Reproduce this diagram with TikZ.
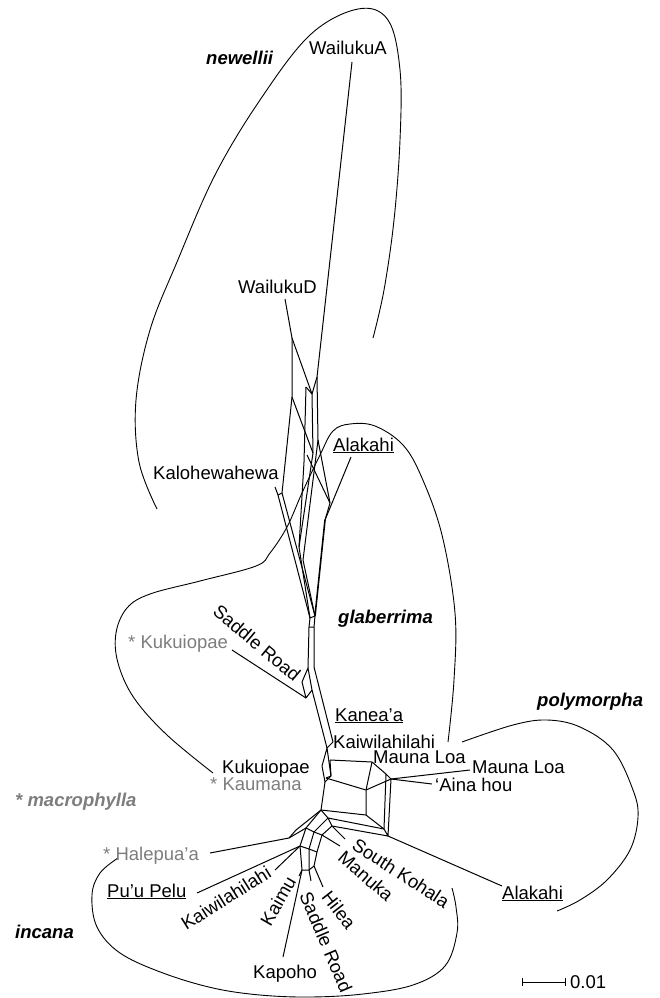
\documentclass[tikz,border=0pt]{standalone}
\usepackage{fontspec}
\setmainfont{Liberation Sans}
\definecolor{lgrey}{RGB}{125,125,125}
\begin{document}
\begin{tikzpicture}[x=1pt,y=-1pt,
  lab/.style={font=\fontsize{18.5}{21}\selectfont, inner sep=0pt},
  glab/.style={lab, text=lgrey},
  taxon/.style={font=\fontsize{18.5}{21}\selectfont\bfseries\itshape, inner sep=0pt},
  net/.style={line width=1pt, line join=round},
  hull/.style={line width=0.9pt},
]
\useasboundingbox (0,0) rectangle (660,998);

% ---- group outlines ----
\draw[hull] plot[smooth, tension=0.6] coordinates {(157,509) (139,462) (136,400) (150,330) (177,262) (215,175) (260,100) (310,35) (358,9) (388,20) (400,70) (400,140) (394,220) (384,290) (373,338)};
\draw[hull] plot[smooth, tension=0.6] coordinates {(448,742) (454,680) (455,613) (442,535) (422,478) (403,445) (375,426) (350,424) (333,431) (320,455) (302,493) (287,527) (270,553) (256,566) (200,581) (150,594) (127,608) (116,633) (118,663) (134,698) (167,735) (213,773)};
\draw[hull] plot[smooth, tension=0.6] coordinates {(462,742) (513,725) (547,720) (580,727) (613,750) (633,790) (638,817) (630,850) (607,880) (580,900) (557,911)};
\draw[hull] plot[smooth, tension=0.6] coordinates {(118,858) (100,873) (92,895) (97,927) (120,953) (163,973) (213,988) (260,995) (310,997) (363,994) (413,985) (445,966) (457,933) (456,907) (452,888)};

% ---- network: upper part ----
\coordinate (wd) at (285,299);
\coordinate (wa) at (352,62);
\coordinate (n1) at (292,338);
\coordinate (n2) at (292,397);
\coordinate (n3) at (312,394);
\coordinate (n4) at (317,377);
\coordinate (n5) at (306,387);
\coordinate (n6) at (313,453);
\coordinate (n7) at (318,440);
\coordinate (n8) at (282,493);
\coordinate (n9) at (299,547);
\coordinate (n10) at (330,503);
\coordinate (n11) at (325,520);
\coordinate (n12) at (304,462);
\coordinate (n13) at (307,455);
\coordinate (ka) at (351,457);
\coordinate (kal) at (275,487);
\coordinate (n14) at (278,495);
\coordinate (n15) at (310,618);
\coordinate (n16) at (315,616);
\coordinate (n17) at (303,560);
\draw[net] (wd) -- (n1) -- (n2) -- (n8);
\draw[net] (n1) -- (n3);
\draw[net] (wa) -- (n4) -- (n3);
\draw[net] (n5) -- (n3);
\draw[net] (n2) -- (n6);
\draw[net] (n3) -- (n6) -- (n9);
\draw[net] (n5) -- (n12) -- (n9);
\draw[net] (n4) -- (n7) -- (n10) -- (n11);
\draw[net] (n13) -- (n10);
\draw[net] (n7) -- (n17) -- (n16);
\draw[net] (ka) -- (n11);
\draw[net, line width=1.6pt] (n11) -- (n16);
\draw[net] (kal) -- (n14) -- (n15);
\draw[net] (n8) -- (n16);
\draw[net] (n14) -- (n8);
\draw[net] (n9) -- (n15);

% ---- network: trunk ----
\coordinate (t1) at (309,627);
\coordinate (t2) at (314,627);
\coordinate (t3) at (308,668);
\coordinate (t4) at (314,667);
\coordinate (sd1) at (302,682);
\coordinate (sd2) at (306,698);
\coordinate (sd3) at (312,690);
\coordinate (kk) at (232,650);
\coordinate (t5) at (327,748);
\coordinate (t6) at (333,742);
\coordinate (t7) at (322,766);
\coordinate (t8) at (325,782);
\coordinate (t9) at (331,776);
\draw[net] (n15) -- (t1) -- (t3);
\draw[net] (n16) -- (t2) -- (t4);
\draw[net] (n15) -- (n16) (t1) -- (t2);
\draw[net] (t3) -- (sd1) -- (sd2) -- (sd3) -- (t3);
\draw[net] (kk) -- (sd2);
\draw[net] (sd3) -- (t5);
\draw[net] (t4) -- (t6) -- (t5);
\draw[net] (t5) -- (t7) -- (t8) -- (t9) -- (t5);

% ---- network: box ----
\coordinate (b1) at (330,760);
\coordinate (b2) at (372,762);
\coordinate (b3) at (386,774);
\coordinate (b4) at (391,779);
\coordinate (b5) at (384,829);
\coordinate (b6) at (388,836);
\coordinate (b7) at (366,790);
\coordinate (b8) at (366,815);
\coordinate (b9) at (321,810);
\coordinate (b10) at (326,778);
\coordinate (b11) at (328,818);
\coordinate (b12) at (332,826);
\coordinate (ml) at (470,770);
\coordinate (ah) at (432,784);
\coordinate (ak) at (502,886);
\draw[net] (b1) -- (b2) -- (b3) -- (b5) -- (b6) -- (b4) -- (b3);
\draw[net] (b2) -- (b7) -- (b8) -- (b5);
\draw[net] (b10) -- (b7) -- (b4);
\draw[net] (t9) -- (b10);
\draw[net] (b1) -- (t9);
\draw[net] (b8) -- (b9) -- (t8);
\draw[net] (b9) -- (b11) -- (b12) -- (b6);
\draw[net] (b11) -- (b5);
\draw[net] (b4) -- (ml);
\draw[net] (b4) -- (ah);
\draw[net] (b6) -- (ak);

% ---- network: incana fan ----
\coordinate (f1) at (306,828);
\coordinate (f2) at (314,832);
\coordinate (f3) at (322,835);
\coordinate (f4) at (300,846);
\coordinate (f5) at (309,849);
\coordinate (f6) at (317,852);
\coordinate (f7) at (302,870);
\coordinate (f8) at (309,870);
\coordinate (f9) at (314,866);
\coordinate (hp) at (210,853);
\coordinate (hp1) at (289,838);
\coordinate (pp) at (197,893);
\coordinate (kw) at (275,870);
\coordinate (km) at (299,876);
\coordinate (kp) at (283,957);
\coordinate (sr) at (311,881);
\coordinate (hi) at (323,887);
\coordinate (mk) at (340,846);
\coordinate (sk) at (345,839);
\draw[net] (b9) -- (f1) -- (f4) -- (f7);
\draw[net] (b11) -- (f2) -- (f5) -- (f8);
\draw[net] (b12) -- (f3) -- (f6) -- (f9);
\draw[net] (f1) -- (f2) -- (f3) (f4) -- (f5) -- (f6) (f7) -- (f8) -- (f9);
\draw[net] (hp) -- (hp1) -- (f1);
\draw[net] (hp1) -- (296,830) -- (b9);
\draw[net] (pp) -- (f4);
\draw[net] (kw) -- (f4);
\draw[net] (km) -- (f7);
\draw[net] (kp) -- (f7);
\draw[net] (sr) -- (f8);
\draw[net] (hi) -- (f9);
\draw[net] (mk) -- (f3);
\draw[net] (sk) -- (b12);

% ---- labels ----
\node[taxon, anchor=base west] (Lnew) at (206,64) {newellii};
\node[lab, anchor=base west] (Lwa) at (309,55) {WailukuA};
\node[lab, anchor=base west] (Lwd) at (238,293) {WailukuD};
\node[lab, anchor=base west] (Lak1) at (333,451) {\underline{Alakahi}};
\node[lab, anchor=base west] (Lkal) at (153,479) {Kalohewahewa};
\node[taxon, anchor=base west] (Lgla) at (338,623) {glaberrima};
\node[glab, anchor=base west] (Lkk1) at (128,648) {* Kukuiopae};
\node[lab, rotate=-40] (Lsr1) at (257,643) {Saddle Road};
\node[lab, anchor=base west] (Lkan) at (335,721) {\underline{Kanea’a}};
\node[lab, anchor=base west] (Lkai1) at (333,748) {Kaiwilahilahi};
\node[lab, anchor=base west] (Lml1) at (373,763) {Mauna Loa};
\node[lab, anchor=base west] (Lml2) at (472,773) {Mauna Loa};
\node[lab, anchor=base west] (Lah) at (435,791) {‘Aina hou};
\node[taxon, anchor=base west] (Lpol) at (537,706) {polymorpha};
\node[lab, anchor=base west] (Lkk2) at (222,773) {Kukuiopae};
\node[glab, anchor=base west] (Lkau) at (210,790) {* Kaumana};
\node[taxon, text=lgrey, anchor=base west] (Lmac) at (15,806) {* macrophylla};
\node[glab, anchor=base west] (Lhal) at (103,860) {* Halepua’a};
\node[lab, anchor=base west] (Lpp) at (107,897) {\underline{Pu’u Pelu}};
\node[lab, rotate=32] (Lkai2) at (226,898) {Kaiwilahilahi};
\node[lab, rotate=60] (Lkaimu) at (278,901) {Kaimu};
\node[lab, rotate=-67] (Lsr2) at (326,942) {Saddle Road};
\node[lab, rotate=-52] (Lhil) at (339,910) {Hilea};
\node[lab, rotate=-41] (Lman) at (366,876) {Manuka};
\node[lab, rotate=-33] (Lsk) at (401,873) {South Kohala};
\node[lab, anchor=base west] (Lkap) at (253,978) {Kapoho};
\node[lab, anchor=base west] (Lak2) at (502,899) {\underline{Alakahi}};
\node[taxon, anchor=base west] (Linc) at (15,938) {incana};

% ---- scale bar ----
\coordinate (sb1) at (522,982);
\coordinate (sb2) at (565,982);
\draw[line width=0.9pt] (sb1) -- (sb2);
\draw[line width=0.9pt] ([yshift=-4pt]sb1) -- ([yshift=4pt]sb1);
\draw[line width=0.9pt] ([yshift=-4pt]sb2) -- ([yshift=4pt]sb2);
\node[lab, anchor=base west] (Lsc) at (570,988) {0.01};
\end{tikzpicture}
\end{document}
